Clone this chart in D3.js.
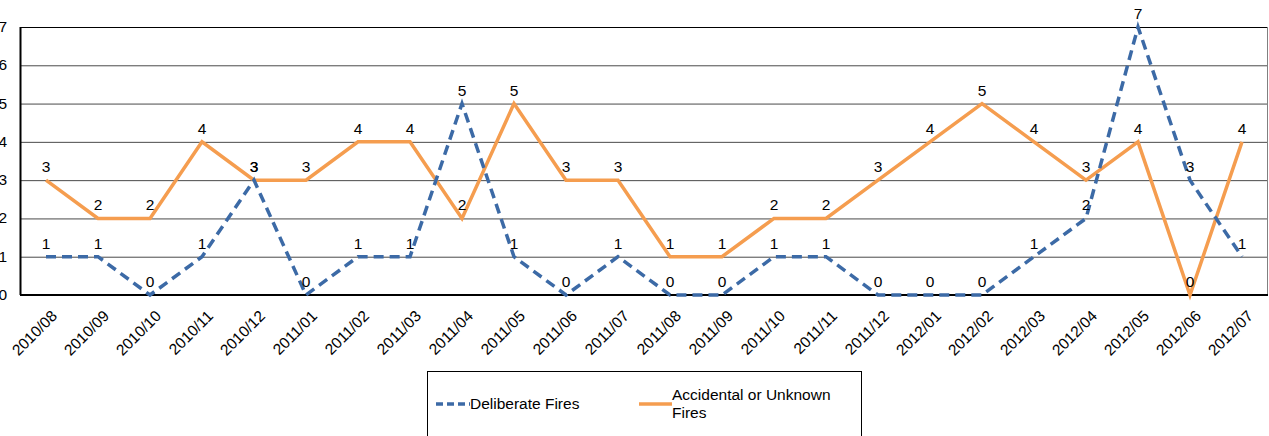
<!DOCTYPE html>
<html>
<head>
<meta charset="utf-8">
<script src="https://cdn.jsdelivr.net/npm/d3@7"></script>
<style>
  body { margin: 0; background: #fff; }
  svg text { font-family: "Liberation Sans", Arial, sans-serif; fill: #000; }
</style>
</head>
<body>
<div id="chart"></div>
<script>
const months = ['2010/08','2010/09','2010/10','2010/11','2010/12','2011/01','2011/02','2011/03',
  '2011/04','2011/05','2011/06','2011/07','2011/08','2011/09','2011/10','2011/11','2011/12',
  '2012/01','2012/02','2012/03','2012/04','2012/05','2012/06','2012/07'];
const deliberate = [1,1,0,1,3,0,1,1,5,1,0,1,0,0,1,1,0,0,0,1,2,7,3,1];
const accidental = [3,2,2,4,3,3,4,4,2,5,3,3,1,1,2,2,3,4,5,4,3,4,0,4];
const yTicks = [0,1,2,3,4,5,6,7];

const W = 1269, H = 436;
const plot = { left: 20, right: 1268, top: 27, bottom: 295 };
const fs = '15.5px';

const svg = d3.select('#chart').append('svg')
  .attr('width', W).attr('height', H);

const x = d3.scaleBand().domain(months).range([plot.left, plot.right]);
const y = d3.scaleLinear().domain([0, 7]).range([plot.bottom, plot.top]);
const cx = d => x(d) + x.bandwidth() / 2;

// gridlines
svg.append('g').selectAll('line')
  .data(yTicks.filter(t => t > 0))
  .enter().append('line')
  .attr('x1', plot.left).attr('x2', plot.right)
  .attr('y1', d => y(d) + 0.5).attr('y2', d => y(d) + 0.5)
  .attr('stroke', d => d === 7 ? '#000' : '#4a4a4a')
  .attr('stroke-width', 1);

// right border
svg.append('line')
  .attr('x1', plot.right - 0.5).attr('x2', plot.right - 0.5)
  .attr('y1', plot.top).attr('y2', plot.bottom)
  .attr('stroke', '#808080');

// y axis
svg.append('line')
  .attr('x1', plot.left + 0.5).attr('x2', plot.left + 0.5)
  .attr('y1', plot.top).attr('y2', plot.bottom)
  .attr('stroke', '#000').attr('stroke-width', 2);

svg.append('g').selectAll('text')
  .data(yTicks)
  .enter().append('text')
  .attr('x', 7).attr('y', d => y(d) + 5)
  .attr('text-anchor', 'end')
  .style('font-size', fs)
  .text(d => d);

// x axis
svg.append('line')
  .attr('x1', plot.left).attr('x2', plot.right)
  .attr('y1', plot.bottom).attr('y2', plot.bottom)
  .attr('stroke', '#000').attr('stroke-width', 2);

svg.append('g').selectAll('text')
  .data(months)
  .enter().append('text')
  .attr('text-anchor', 'end')
  .attr('transform', d => 'translate(' + (cx(d) + 12) + ',' + (plot.bottom + 22) + ') rotate(-45)')
  .style('font-size', fs)
  .text(d => d);

const line = d3.line().x((d, i) => cx(months[i])).y(d => y(d));

const series = [
  { name: 'Accidental', values: accidental, color: '#F59D4F', dash: null },
  { name: 'Deliberate', values: deliberate, color: '#3C6AA6', dash: '10,6' }
];

series.forEach(s => {
  svg.append('path')
    .datum(s.values)
    .attr('fill', 'none')
    .attr('stroke', s.color)
    .attr('stroke-width', 3.5)
    .attr('stroke-dasharray', s.dash)
    .attr('d', line);
});

series.forEach(s => {
  svg.append('g').selectAll('text')
    .data(s.values)
    .enter().append('text')
    .attr('x', (d, i) => cx(months[i]))
    .attr('y', d => y(d) - 8)
    .attr('text-anchor', 'middle')
    .style('font-size', fs)
    .text(d => d);
});

// legend
const lg = svg.append('g');
lg.append('rect')
  .attr('x', 427.5).attr('y', 371.5).attr('width', 434).attr('height', 80)
  .attr('fill', 'none').attr('stroke', '#000');
lg.append('line')
  .attr('x1', 436).attr('x2', 470).attr('y1', 404).attr('y2', 404)
  .attr('stroke', '#3C6AA6').attr('stroke-width', 3.5).attr('stroke-dasharray', '7,4');
lg.append('text').attr('x', 470).attr('y', 409).style('font-size', fs).text('Deliberate Fires');
lg.append('line')
  .attr('x1', 639).attr('x2', 672).attr('y1', 404).attr('y2', 404)
  .attr('stroke', '#F59D4F').attr('stroke-width', 3.5);
lg.append('text').attr('x', 672).attr('y', 400).style('font-size', fs).text('Accidental or Unknown');
lg.append('text').attr('x', 672).attr('y', 418).style('font-size', fs).text('Fires');
</script>
</body>
</html>
